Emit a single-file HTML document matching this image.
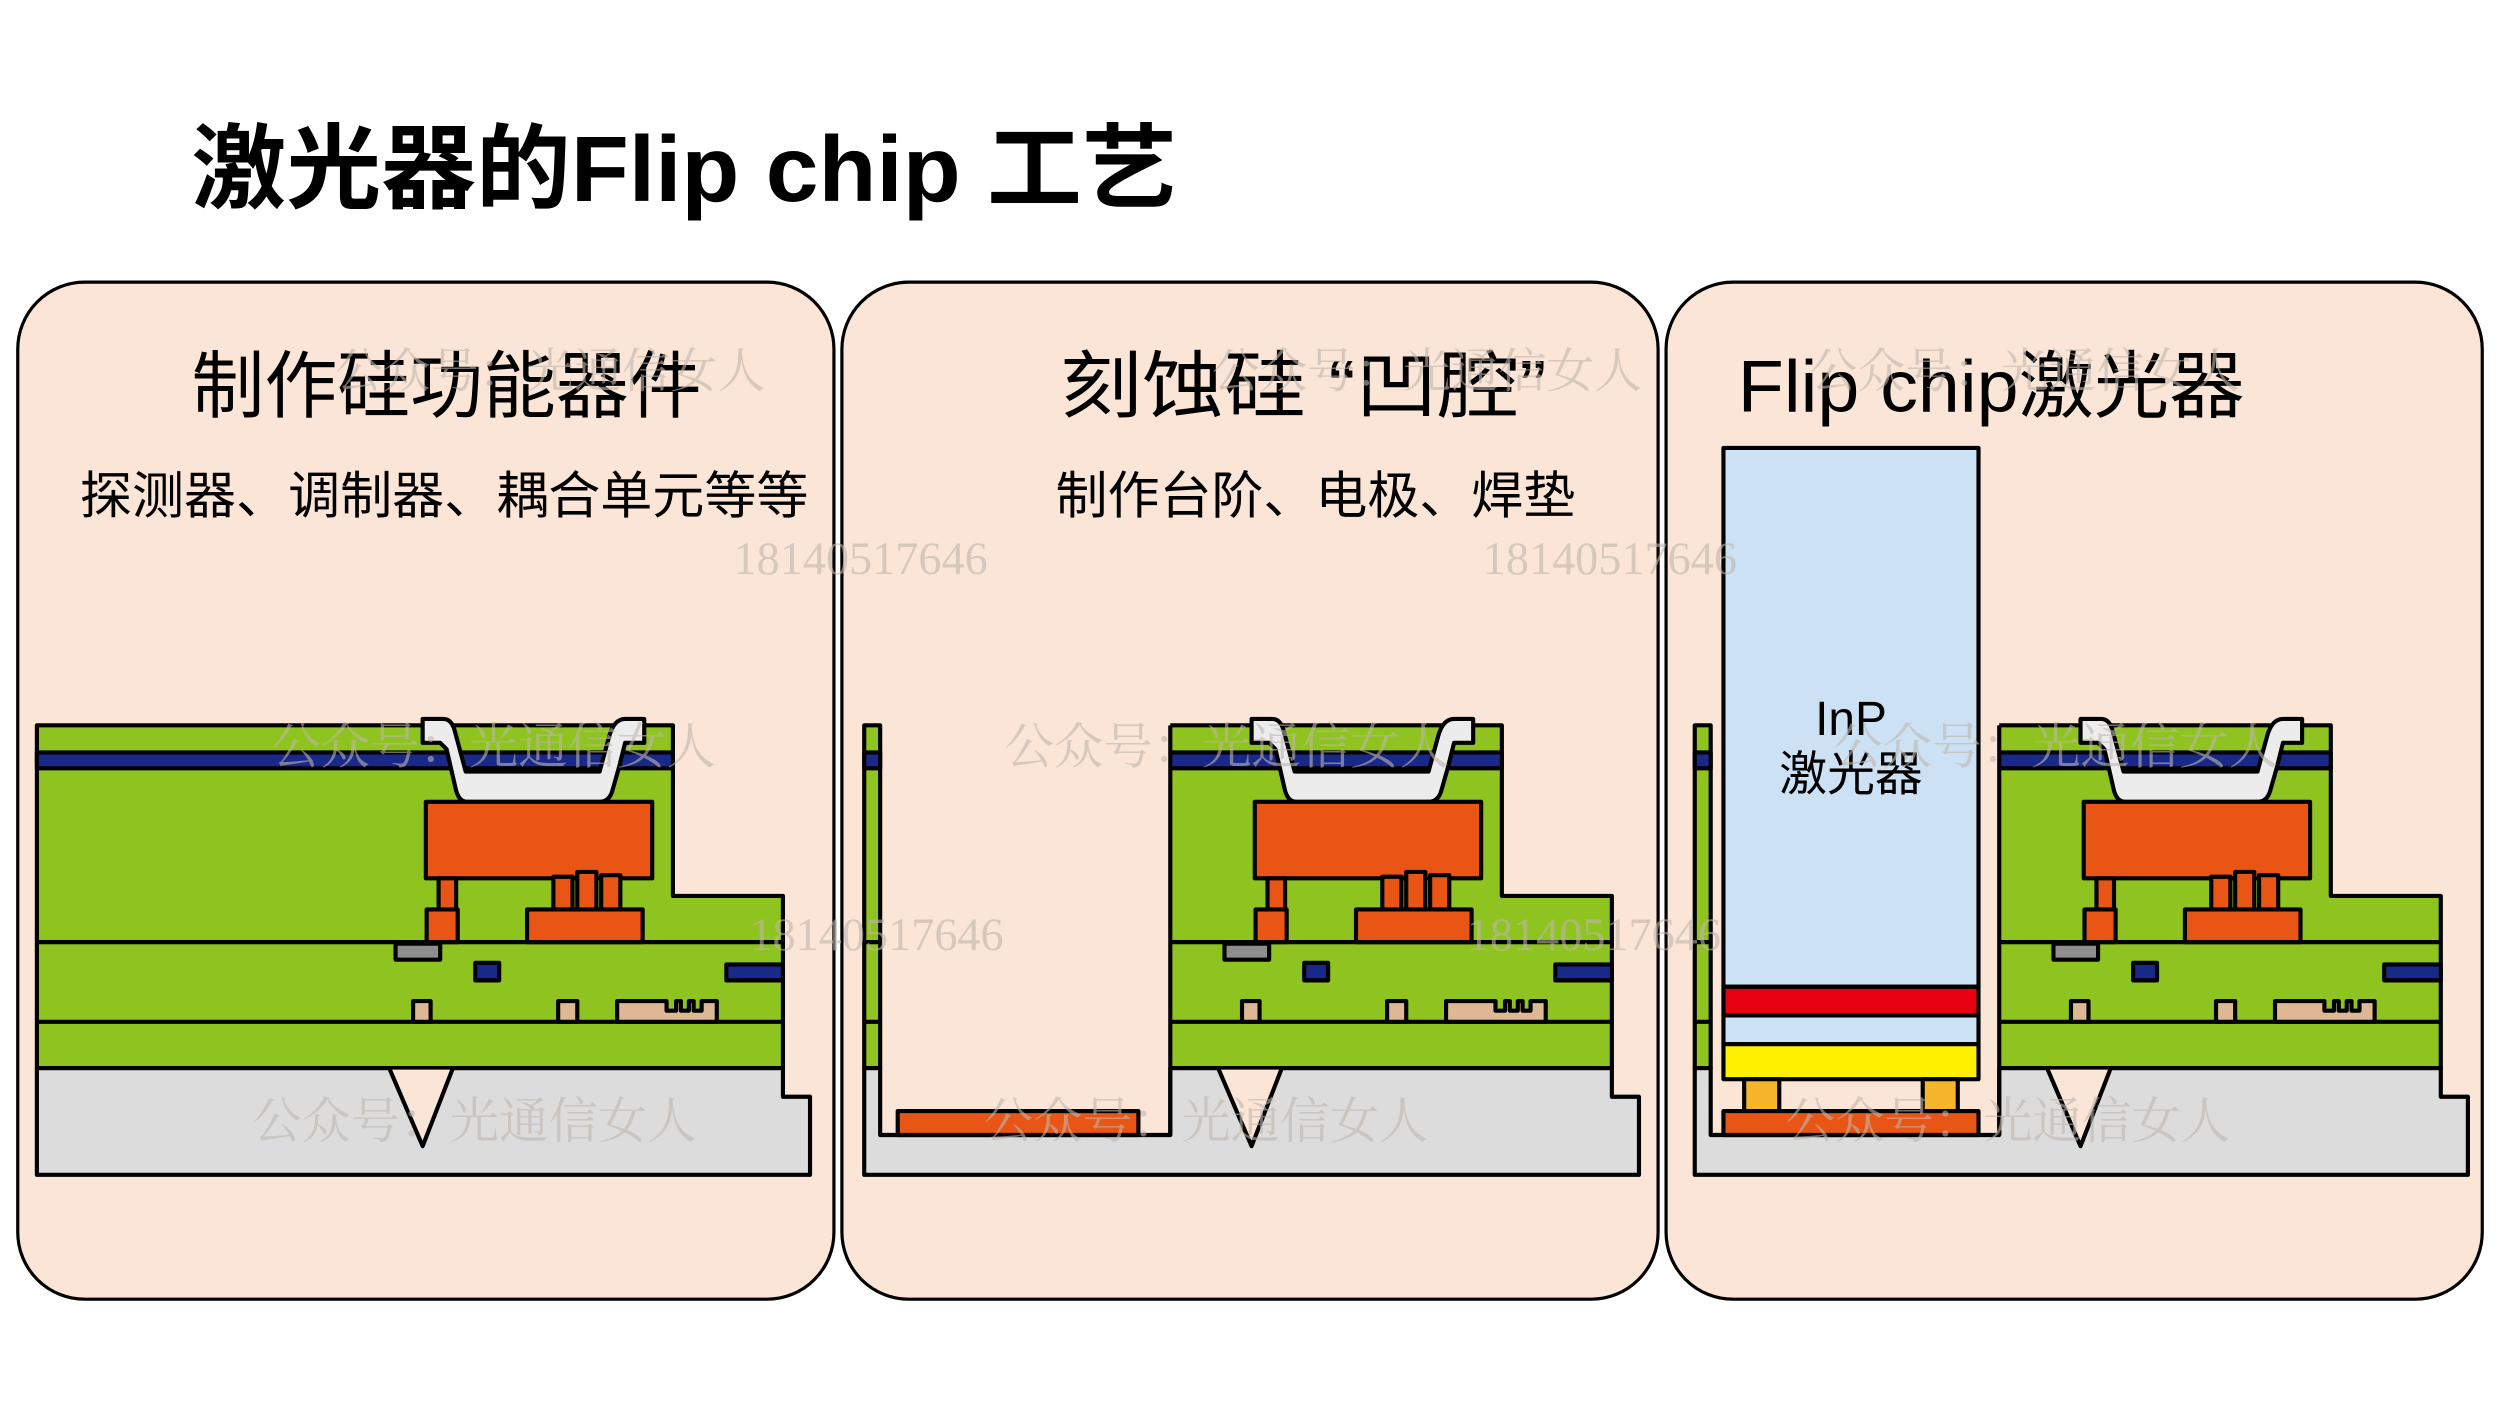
<!DOCTYPE html>
<html><head><meta charset="utf-8"><style>
html,body{margin:0;padding:0;background:#fff}
svg{display:block}
text{font-family:"Liberation Sans","Noto Sans CJK SC",sans-serif}
.wm text{font-family:"Liberation Serif","Noto Serif CJK SC",serif;fill:#bfb6ae}
.wm{opacity:.6}
</style></head><body>
<svg width="2500" height="1406" viewBox="0 0 1568 882" xmlns="http://www.w3.org/2000/svg">
<defs>
<g id="chip" stroke="#000" stroke-width="2.6" stroke-linejoin="round">
  <polygon points="23,455 422,455 422,562 491,562 491,670 23,670" fill="#8fc320"/>
  <rect x="23" y="472" width="399" height="10" fill="#19298a"/>
  <line x1="23" y1="591" x2="491" y2="591"/>
  <line x1="23" y1="641" x2="491" y2="641"/>
  <path d="M265,451 H278 Q283,451 285,458 L292,484 H376 L382,462 Q385,451 392,451 H404 V466 H392 L388,482 L384,496 Q382,503 376,503 H293 Q288,503 286,496 L280,470 L276,466 H265 Z" fill="#ececec"/>
  <rect x="267" y="503" width="142" height="48" fill="#e95514"/>
  <rect x="275" y="551" width="11" height="20" fill="#e95514"/>
  <rect x="267.5" y="570.5" width="19.5" height="20.5" fill="#e95514"/>
  <rect x="347" y="550" width="12" height="21" fill="#e95514"/>
  <rect x="362" y="547" width="12" height="24" fill="#e95514"/>
  <rect x="377" y="549" width="12" height="22" fill="#e95514"/>
  <rect x="330.5" y="570.5" width="72.5" height="20.5" fill="#e95514"/>
  <rect x="248" y="592" width="28" height="10" fill="#8e8e8e"/>
  <rect x="298" y="604" width="15" height="11" fill="#19298a"/>
  <rect x="455.5" y="605" width="35.5" height="10" fill="#19298a"/>
  <rect x="259" y="628" width="11" height="13" fill="#deb894"/>
  <rect x="350" y="628" width="12" height="13" fill="#deb894"/>
  <path d="M387,641 V628 H418 V634 H424 V628 H427 V634 H432 V628 H435 V634 H440 V628 H449.5 V641 Z" fill="#deb894"/>
</g>
<clipPath id="cr"><rect x="214" y="430" width="400" height="300"/></clipPath>
</defs>

<text x="120" y="126" font-size="58" font-weight="bold" textLength="618" lengthAdjust="spacingAndGlyphs">激光器的Flip chip 工艺</text>

<g fill="#fbe5d6" stroke="#000" stroke-width="2">
<rect x="11" y="177" width="512" height="638" rx="42"/>
<rect x="528" y="177" width="512" height="638" rx="42"/>
<rect x="1045" y="177" width="512" height="638" rx="42"/>
</g>

<text x="120" y="258" font-size="46" textLength="320" lengthAdjust="spacingAndGlyphs">制作硅功能器件</text>
<text x="50" y="322" font-size="32" textLength="457" lengthAdjust="spacingAndGlyphs">探测器、调制器、耦合单元等等</text>
<text x="665" y="258" font-size="46" textLength="305" lengthAdjust="spacingAndGlyphs">刻蚀硅 “凹腔”</text>
<text x="662" y="322" font-size="32" textLength="326" lengthAdjust="spacingAndGlyphs">制作台阶、电极、焊垫</text>
<text x="1090" y="258" font-size="46" textLength="318" lengthAdjust="spacingAndGlyphs">Flip chip激光器</text>

<!-- panel 1 -->
<g stroke="#000" stroke-width="2.6" stroke-linejoin="round">
<polygon points="23,670 491,670 491,688 508,688 508,737 23,737" fill="#dcdcdc"/>
</g>
<use href="#chip"/>
<polygon points="244,671 284,671 265,719" fill="#fbe5d6"/>
<polyline points="244,670 265,719 284,670" fill="none" stroke="#000" stroke-width="2.6" stroke-linejoin="round"/>

<!-- panel 2 -->
<g stroke="#000" stroke-width="2.6" stroke-linejoin="round">
<polygon points="542,670 552,670 552,712 734,712 734,670 1011,670 1011,688 1028,688 1028,737 542,737" fill="#dcdcdc"/>
<rect x="542" y="455" width="10" height="215" fill="#8fc320"/>
<rect x="542" y="472" width="10" height="10" fill="#19298a"/>
<line x1="542" y1="591" x2="552" y2="591"/><line x1="542" y1="641" x2="552" y2="641"/>
<rect x="563" y="697" width="151" height="15" fill="#e95514"/>
</g>
<g transform="translate(520,0)"><g clip-path="url(#cr)"><use href="#chip"/></g></g>
<line x1="734" y1="455" x2="734" y2="712" stroke="#000" stroke-width="2.6"/>
<polygon points="764,671 804,671 785,719" fill="#fbe5d6"/>
<polyline points="764,670 785,719 804,670" fill="none" stroke="#000" stroke-width="2.6" stroke-linejoin="round"/>

<!-- panel 3 -->
<g stroke="#000" stroke-width="2.6" stroke-linejoin="round">
<polygon points="1063,670 1073,670 1073,712 1254,712 1254,670 1531,670 1531,688 1548,688 1548,737 1063,737" fill="#dcdcdc"/>
<rect x="1063" y="455" width="10" height="215" fill="#8fc320"/>
<rect x="1063" y="472" width="10" height="10" fill="#19298a"/>
<line x1="1063" y1="591" x2="1073" y2="591"/><line x1="1063" y1="641" x2="1073" y2="641"/>
<rect x="1081" y="281" width="160" height="338" fill="#cce1f4"/>
<rect x="1081" y="619" width="160" height="18" fill="#e60012"/>
<rect x="1081" y="637" width="160" height="18" fill="#cce1f4"/>
<rect x="1081" y="655" width="160" height="22" fill="#fff000"/>
<rect x="1094" y="677" width="22" height="20" fill="#f7b52c"/>
<rect x="1206" y="677" width="22" height="20" fill="#f7b52c"/>
<rect x="1081" y="697" width="160" height="15" fill="#e95514"/>
</g>
<g transform="translate(1040,0)"><g clip-path="url(#cr)"><use href="#chip"/></g></g>
<line x1="1254" y1="455" x2="1254" y2="712" stroke="#000" stroke-width="2.6"/>
<polygon points="1284,671 1324,671 1305,719" fill="#fbe5d6"/>
<polyline points="1284,670 1305,719 1324,670" fill="none" stroke="#000" stroke-width="2.6" stroke-linejoin="round"/>
<text x="1161" y="461" font-size="30" text-anchor="middle">InP</text>
<text x="1161" y="496" font-size="30" text-anchor="middle">激光器</text>

<!-- watermarks -->
<g class="wm" font-size="30">
<text x="210" y="243">公众号：光通信女人</text>
<text x="760" y="243">公众号：光通信女人</text>
<text x="1135" y="243">公众号：光通信女人</text>
<text x="460" y="360" font-size="29">18140517646</text>
<text x="930" y="360" font-size="29">18140517646</text>
<text x="470" y="596" font-size="29">18140517646</text>
<text x="920" y="596" font-size="29">18140517646</text>
<text x="170" y="479" font-size="31">公众号：光通信女人</text>
<text x="630" y="479" font-size="31">公众号：光通信女人</text>
<text x="1150" y="479" font-size="31">公众号：光通信女人</text>
<text x="158" y="714" font-size="31">公众号：光通信女人</text>
<text x="617" y="714" font-size="31">公众号：光通信女人</text>
<text x="1120" y="714" font-size="31">公众号：光通信女人</text>
</g>
</svg>
</body></html>
